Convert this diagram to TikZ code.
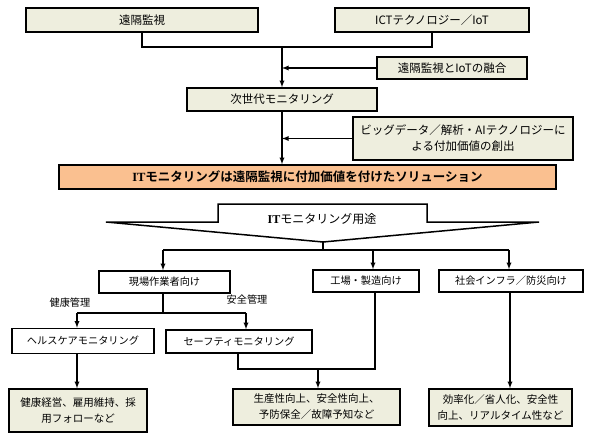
\documentclass[tikz,border=0pt]{standalone}
\usepackage{fontspec}
\setmainfont{Noto Sans CJK JP}[BoldFont={Noto Sans CJK JP Bold}]
\newfontfamily\latinserif{Liberation Serif}
\usepackage{tikz}
\usetikzlibrary{arrows,calc,positioning}
\definecolor{boxbeige}{RGB}{238,238,222}
\definecolor{boxorange}{RGB}{250,192,144}
\newcommand{\itbold}{{\latinserif\bfseries IT}}

\begin{document}
\begin{tikzpicture}[
    x=1pt, y=-1pt,
    every node/.style={inner sep=0, align=center},
    topbox/.style={draw, line width=1.6pt, fill=boxbeige, font=\fontsize{11.5}{16}\selectfont},
    keybox/.style={draw, line width=1.6pt, fill=boxorange, font=\fontsize{12.5}{14}\selectfont\bfseries},
    usebox/.style={draw, line width=1.6pt, fill=white, font=\fontsize{10.2}{12}\selectfont},
    resbox/.style={draw, line width=1.6pt, fill=boxbeige, font=\fontsize{10.5}{16}\selectfont},
    tag/.style={font=\fontsize{10.2}{12}\selectfont},
    link/.style={draw, line width=1.3pt},
    arr/.style={link, -latex}]
\useasboundingbox (0,0) rectangle (590,442);

% upper flow
\node (tele)     [topbox, minimum width=232pt, minimum height=24pt] at (142,20)    {遠隔監視};
\node (ict)      [topbox, minimum width=194pt, minimum height=24pt] at (432,20)    {ICTテクノロジー／IoT};
\node (fusion)   [topbox, minimum width=150pt, minimum height=22pt] at (452,68)    {遠隔監視とIoTの融合};
\node (nextgen)  [topbox, minimum width=190pt, minimum height=23pt] at (282,99.5)  {次世代モニタリング};
\node (bigdata)  [topbox, minimum width=220pt, minimum height=43pt] at (463,138.5) {ビッグデータ／解析・AIテクノロジーに\\よる付加価値の創出};
\node (solution) [keybox, minimum width=497pt, minimum height=24pt] at (307.5,177) {\itbold モニタリングは遠隔監視に付加価値を付けたソリューション};

\coordinate (merge) at (282,47);
\path[link] (tele.south) |- (merge) -| (ict.south);
\path[arr] (merge) -- (nextgen.north);
\path[arr] (fusion.west) -- (fusion.west -| merge);
\path[arr] (nextgen.south) -- (nextgen.south |- solution.north);
\path[arr] (bigdata.west) -- (bigdata.west -| merge);

% uses chevron
\draw[line width=1.5pt, fill=white] (106,222) -- (218,222) -- (218,204) -- (427,204)
    -- (427,222) -- (539,222) -- (323,242) -- cycle;
\node (uses) [font=\fontsize{12}{14}\selectfont] at (322,219) {\itbold モニタリング用途};
\coordinate (tip) at (323,242);

% application fields
\node (worker)  [usebox, minimum width=131pt, minimum height=22pt] at (164.5,282) {現場作業者向け};
\node (factory) [usebox, minimum width=106pt, minimum height=22pt] at (366,281)   {工場・製造向け};
\node (infra)   [usebox, minimum width=144pt, minimum height=22pt] at (511,281)   {社会インフラ／防災向け};

\coordinate (fork) at (323,250);
\path[link] (tip) -- (fork);
\path[link] (163,250) -- (509,250);
\path[arr] (163,250) -- (163,250 |- worker.north);
\path[arr] (373,250) -- (373,250 |- factory.north);
\path[arr] (509,250) -- (509,250 |- infra.north);

\node (health) [usebox, minimum width=142pt, minimum height=25pt] at (83,341)    {ヘルスケアモニタリング};
\node (safety) [usebox, minimum width=146pt, minimum height=23pt] at (239,341.5) {セーフティモニタリング};
\node [tag] at (70,303)  {健康管理};
\node [tag] at (247,300) {安全管理};

\coordinate (split) at (163,313);
\path[link] (163,0 |- worker.south) -- (split);
\path[link] (77,313) -- (246,313);
\path[arr] (77,313) -- (77,313 |- health.north);
\path[arr] (246,313) -- (246,313 |- safety.north);

% results
\node (healthres) [resbox, minimum width=138pt, minimum height=43pt] at (78,410.5)  {健康経営、雇用維持、採\\用フォローなど};
\node (prodres)   [resbox, minimum width=167pt, minimum height=36pt] at (316.5,407) {生産性向上、安全性向上、\\予防保全／故障予知など};
\node (infrares)  [resbox, minimum width=143pt, minimum height=37pt] at (500.5,407.5) {効率化／省人化、安全性\\向上、リアルタイム性など};

\coordinate (join) at (318,369);
\path[arr] (77,0 |- health.south) -- (77,0 |- healthres.north);
\path[link] (238,0 |- safety.south) |- (375,369) -- (375,0 |- factory.south);
\path[arr] (join) -- (join |- prodres.north);
\path[arr] (510,0 |- infra.south) -- (510,0 |- infrares.north);

\end{tikzpicture}
\end{document}
